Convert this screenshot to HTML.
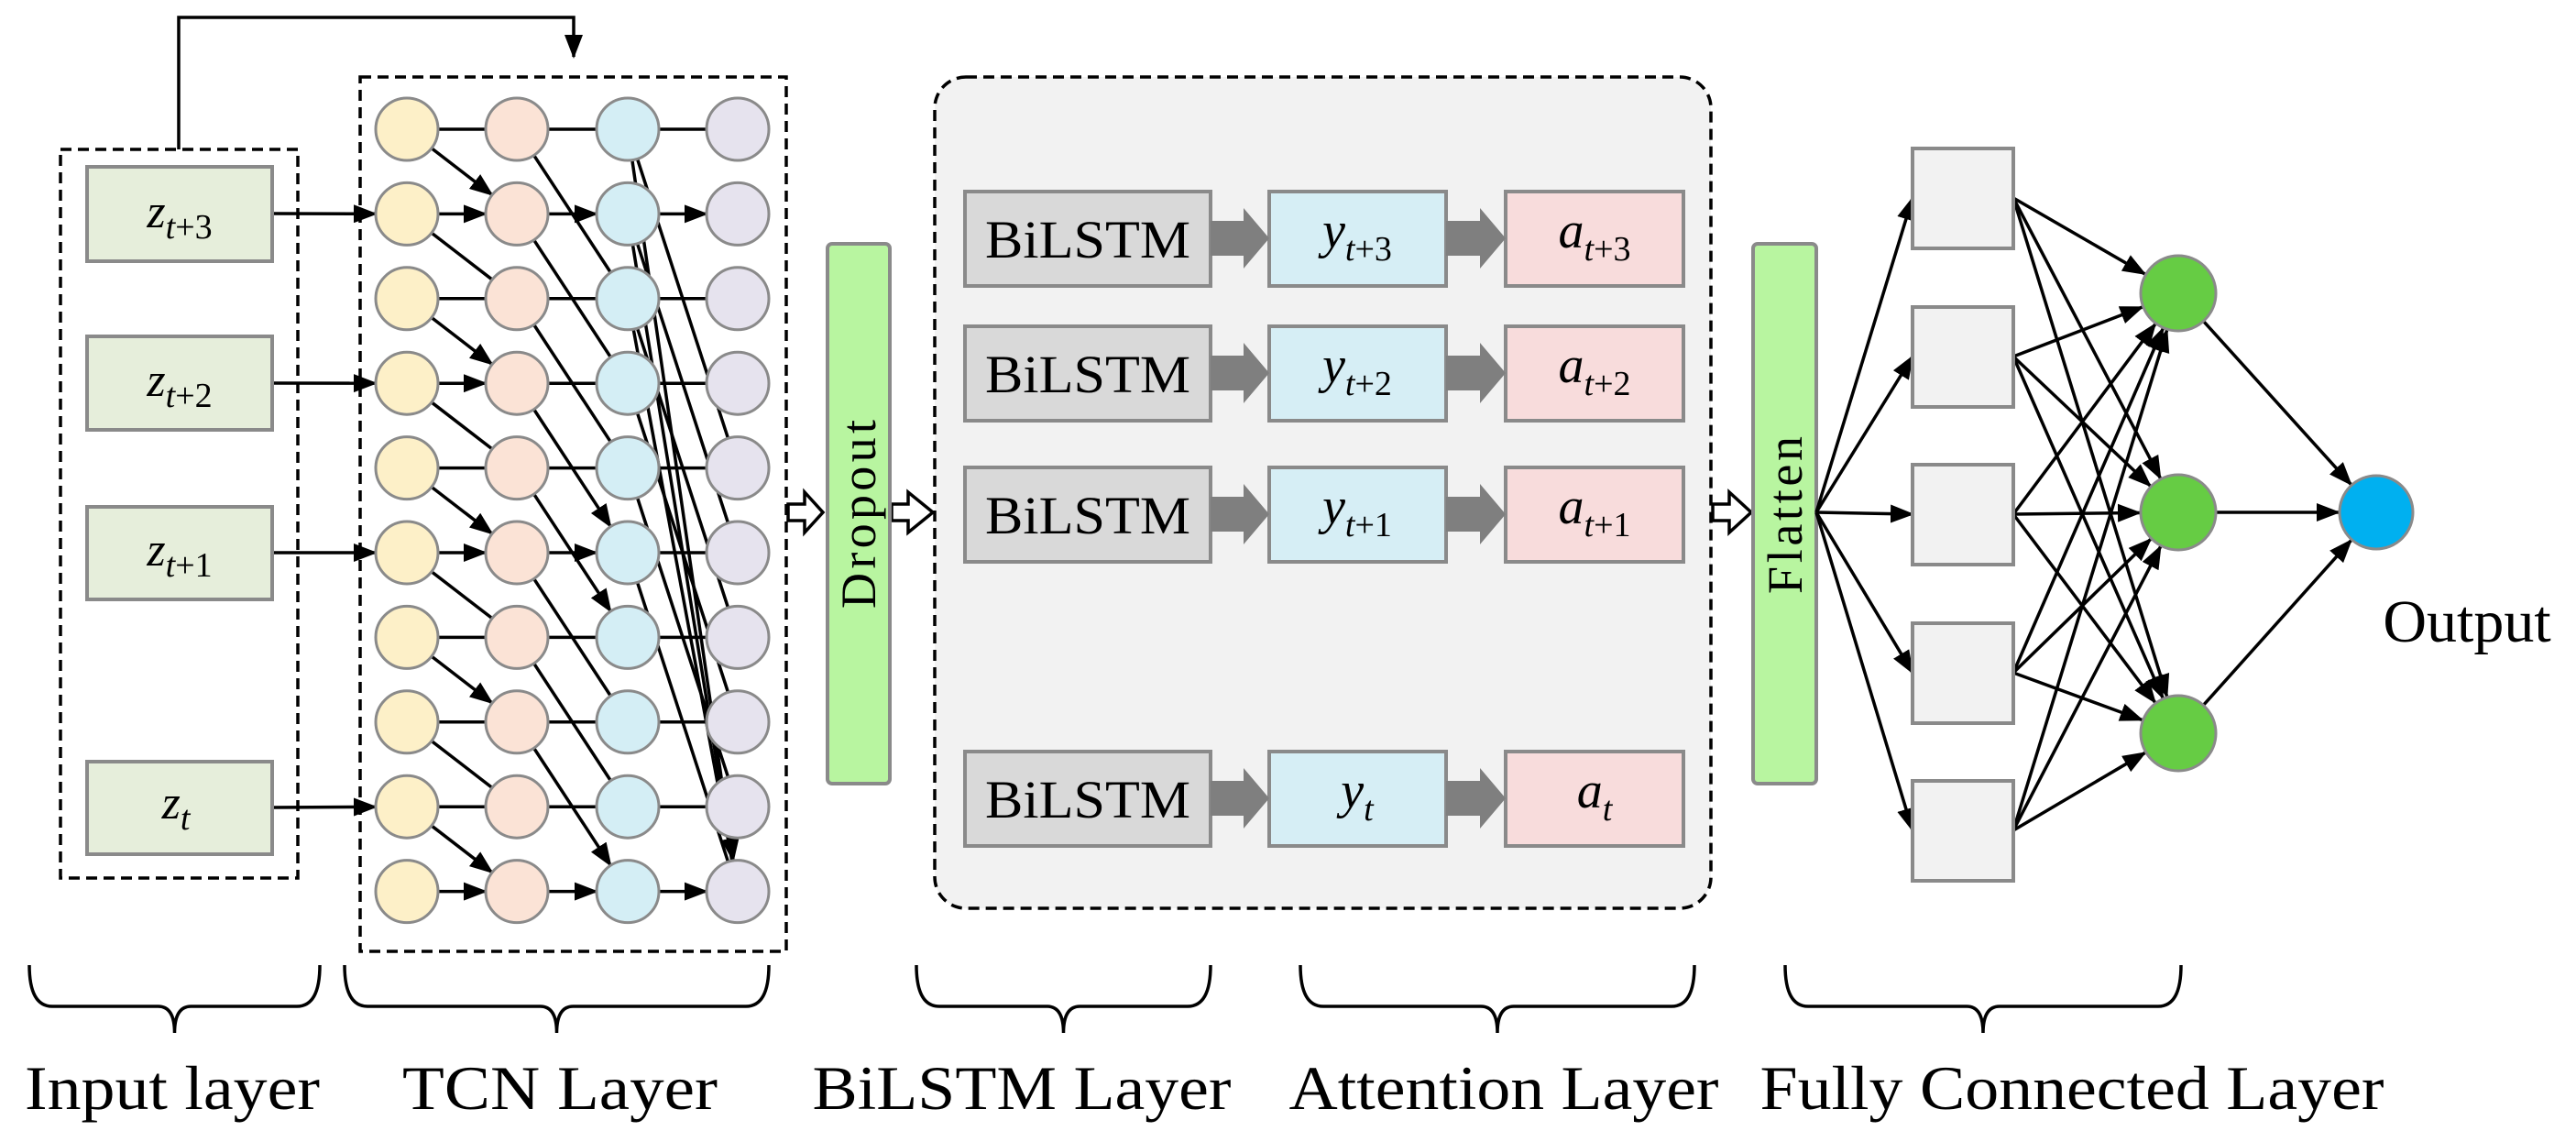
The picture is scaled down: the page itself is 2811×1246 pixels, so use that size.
<!DOCTYPE html>
<html><head><meta charset="utf-8"><style>
html,body{margin:0;padding:0;background:#fff;}
svg{display:block;font-family:"Liberation Serif",serif;}
</style></head><body>
<svg id="s" width="2811" height="1246" viewBox="0 0 2811 1246" xmlns="http://www.w3.org/2000/svg">
<defs>
<marker id="ah" markerUnits="userSpaceOnUse" markerWidth="26" markerHeight="20" refX="24" refY="10" orient="auto">
<path d="M0,0 L26,10 L0,20 z" fill="#000"/>
</marker>
</defs>
<g id="edges" stroke="#000" stroke-width="3.5" fill="none"></g>
<!-- top feedback arrow -->
<path d="M195,163 V19 H626 V62" stroke="#000" stroke-width="3.5" fill="none" marker-end="url(#ah)"/>
<!-- input dashed box -->
<rect x="66" y="163" width="259" height="795" fill="none" stroke="#000" stroke-width="3.5" stroke-dasharray="12,7"/>
<!-- TCN dashed box -->
<rect x="393" y="84" width="465" height="954" fill="none" stroke="#000" stroke-width="3.5" stroke-dasharray="12,7"/>
<!-- attention dashed box -->
<rect x="1020" y="84" width="847" height="907" rx="34" fill="#f2f2f2" stroke="#000" stroke-width="3.5" stroke-dasharray="12,7"/>
<g id="nodes"></g>
<g font-size="52" text-anchor="middle">
<rect x="95" y="182" width="202" height="103" fill="#e6eedb" stroke="#8a8a8a" stroke-width="4"/>
<text x="196" y="248"><tspan font-style="italic">z</tspan><tspan font-size="38" dy="12" font-style="italic">t</tspan><tspan font-size="38">+3</tspan></text>
<rect x="95" y="367" width="202" height="102" fill="#e6eedb" stroke="#8a8a8a" stroke-width="4"/>
<text x="196" y="432"><tspan font-style="italic">z</tspan><tspan font-size="38" dy="12" font-style="italic">t</tspan><tspan font-size="38">+2</tspan></text>
<rect x="95" y="553" width="202" height="101" fill="#e6eedb" stroke="#8a8a8a" stroke-width="4"/>
<text x="196" y="617"><tspan font-style="italic">z</tspan><tspan font-size="38" dy="12" font-style="italic">t</tspan><tspan font-size="38">+1</tspan></text>
<rect x="95" y="831" width="202" height="101" fill="#e6eedb" stroke="#8a8a8a" stroke-width="4"/>
<text x="192" y="893"><tspan font-style="italic">z</tspan><tspan font-size="38" dy="12" font-style="italic">t</tspan></text>
</g>
<!-- hollow arrows -->
<g fill="#fff" stroke="#000" stroke-width="3.5">
<polygon points="860,550 878,550 878,537 898,559 878,581 878,568 860,568"/>
<polygon points="973,550 991,550 991,537 1018,559 991,581 991,568 973,568"/>
<polygon points="1869,550 1887,550 1887,537 1911,559 1887,581 1887,568 1869,568"/>
</g>
<!-- Dropout / Flatten -->
<rect x="903" y="266" width="68" height="589" rx="5" fill="#b8f5a0" stroke="#8a8a8a" stroke-width="4"/>
<text transform="translate(955,561) rotate(-90)" font-size="54" text-anchor="middle" textLength="206">Dropout</text>
<rect x="1913" y="266" width="69" height="589" rx="5" fill="#b8f5a0" stroke="#8a8a8a" stroke-width="4"/>
<text transform="translate(1966,562) rotate(-90)" font-size="54" text-anchor="middle" textLength="172">Flatten</text>
<g id="rows"></g>
<!-- FC -->
<g id="fc"></g>
<text x="2692" y="700" font-size="66" text-anchor="middle">Output</text>
<!-- braces -->
<g id="braces" stroke="#000" stroke-width="3.5" fill="none"></g>
<g font-size="68" text-anchor="middle">
<text x="188" y="1210" textLength="322" lengthAdjust="spacingAndGlyphs">Input layer</text>
<text x="611" y="1210" textLength="344" lengthAdjust="spacingAndGlyphs">TCN Layer</text>
<text x="1115" y="1210" textLength="457" lengthAdjust="spacingAndGlyphs">BiLSTM Layer</text>
<text x="1641" y="1210" textLength="469" lengthAdjust="spacingAndGlyphs">Attention Layer</text>
<text x="2261" y="1210" textLength="681" lengthAdjust="spacingAndGlyphs">Fully Connected Layer</text>
</g>
</svg>
<script>
var NS="http://www.w3.org/2000/svg";
function el(p,t,a){var e=document.createElementNS(NS,t);for(var k in a)e.setAttribute(k,a[k]);p.appendChild(e);return e;}
var E=document.getElementById("edges"),N=document.getElementById("nodes");
var cx=[444,564,685,805],cy=[];for(var i=0;i<10;i++)cy.push(141+i*92.4);
var R=34;
function arrow(x1,y1,x2,y2,r2,head,g){var dx=x2-x1,dy=y2-y1,L=Math.sqrt(dx*dx+dy*dy);
 var ex=x2-dx/L*r2,ey=y2-dy/L*r2;var a={x1:x1,y1:y1,x2:ex,y2:ey};if(head)a["marker-end"]="url(#ah)";el(g||E,"line",a);}
function conn(c,i,j,head){var x1=cx[c],y1=cy[i],x2=cx[c+1],y2=cy[j];var dx=x2-x1,dy=y2-y1,L=Math.sqrt(dx*dx+dy*dy);
 arrow(x1+dx/L*R,y1+dy/L*R,x2,y2,R,head);}
// col0->col1
for(var i=0;i<10;i++){conn(0,i,i,i==1||i==3||i==5||i==9);if(i<9)conn(0,i,i+1,i%2==0);}
// col1->col2 dilation 2
for(var i=0;i<10;i++){conn(1,i,i,i==1||i==5||i==9);if(i+2<10)conn(1,i,i+2,i==3||i==4||i==7);}
// col2->col3 dilation 4 and long
for(var i=0;i<10;i++){conn(2,i,i,i==1||i==9);}
for(var i=0;i<6;i++){conn(2,i,i+4,false);}
conn(2,0,9,true);conn(2,1,9,false);conn(2,2,9,false);
// input arrows
[[233,1],[418,3],[603,5],[881,8]].forEach(function(p){arrow(297,p[0],cx[0],cy[p[1]],R,true);});
var cols=["#fdf0c8","#fbe3d6","#d4eef5","#e6e3ee"];
for(var c=0;c<4;c++)for(var i=0;i<10;i++)el(N,"circle",{cx:cx[c],cy:cy[i],r:R,fill:cols[c],stroke:"#8a8a8a","stroke-width":3});
// attention rows
var Rw=document.getElementById("rows");var ry=[260,407,561,871];var sub=["+3","+2","+1",""];
ry.forEach(function(y,k){
 el(Rw,"rect",{x:1053,y:y-51,width:268,height:103,fill:"#d9d9d9",stroke:"#8a8a8a","stroke-width":4});
 el(Rw,"rect",{x:1385,y:y-51,width:193,height:103,fill:"#d6eef5",stroke:"#8a8a8a","stroke-width":4});
 el(Rw,"rect",{x:1643,y:y-51,width:194,height:103,fill:"#f8dcdc",stroke:"#8a8a8a","stroke-width":4});
 [1321,1578].forEach(function(x){var w=x==1321?64:65;
  el(Rw,"polygon",{points:[x,y-19,x+w-28,y-19,x+w-28,y-33,x+w,y,x+w-28,y+33,x+w-28,y+19,x,y+19].join(","),fill:"#7f7f7f"});});
 var t=el(Rw,"text",{x:1187,y:y+21,"font-size":58,"text-anchor":"middle",textLength:224,lengthAdjust:"spacingAndGlyphs"});t.textContent="BiLSTM";
 [["y",1481],["a",1740]].forEach(function(v){var tx=el(Rw,"text",{x:v[1],y:y+10,"font-size":56,"text-anchor":"middle"});
  var a=el(tx,"tspan",{"font-style":"italic"});a.textContent=v[0];
  var b=el(tx,"tspan",{"font-size":38,dy:14,"font-style":"italic"});b.textContent="t";
  if(sub[k]){var c2=el(tx,"tspan",{"font-size":38});c2.textContent=sub[k];}});
});
// FC
var F=document.getElementById("fc");var by=[216,389,561,734,906],gy=[320,559,800];
var G=el(F,"g",{stroke:"#000","stroke-width":3.5});
by.forEach(function(y){arrow(1982,559,2087,y,0,true,G);});
by.forEach(function(y){gy.forEach(function(g){arrow(2197,y,2377,g,42,true,G);});});
gy.forEach(function(g){var dx=2593-2377,dy=559-g,L=Math.sqrt(dx*dx+dy*dy);arrow(2377+dx/L*42,g+dy/L*42,2593,559,41,true,G);});
by.forEach(function(y){el(F,"rect",{x:2087,y:y-54,width:110,height:109,fill:"#f2f2f2",stroke:"#8a8a8a","stroke-width":4});});
gy.forEach(function(g){el(F,"circle",{cx:2377,cy:g,r:41,fill:"#66cc44",stroke:"#8a8a8a","stroke-width":3});});
el(F,"circle",{cx:2593,cy:559,r:40,fill:"#00b0f0",stroke:"#8a8a8a","stroke-width":3});
// braces
var B=document.getElementById("braces");
[[32,349],[376,839],[1000,1321],[1419,1849],[1948,2380]].forEach(function(b){var a=b[0],c=b[1],m=(a+c)/2,t=1053,l=1098,tip=1127;
 el(B,"path",{d:"M"+a+","+t+" Q"+a+","+l+" "+(a+25)+","+l+" L"+(m-18)+","+l+" Q"+m+","+l+" "+m+","+tip+" Q"+m+","+l+" "+(m+18)+","+l+" L"+(c-25)+","+l+" Q"+c+","+l+" "+c+","+t});});
</script>
</body></html>
